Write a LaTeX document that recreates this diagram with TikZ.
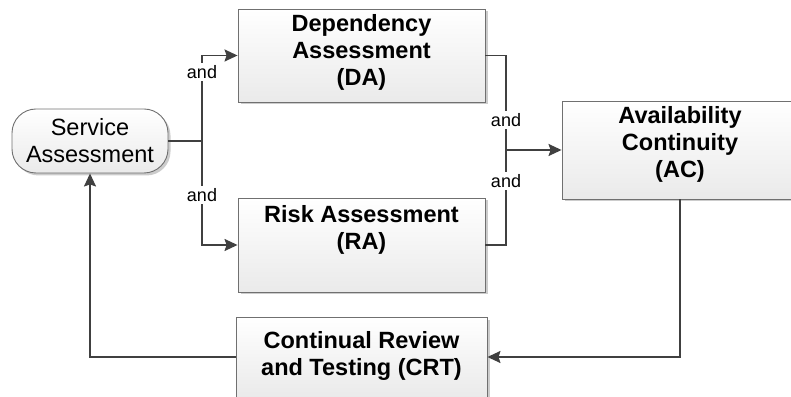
\documentclass[tikz,border=0pt]{standalone}
\usepackage{fontspec}
\setmainfont{Liberation Sans}
\usetikzlibrary{arrows.meta,shadows}
\definecolor{wire}{HTML}{404040}
\definecolor{boxedge}{HTML}{707070}
\definecolor{boxfill}{HTML}{EAEAEA}
\begin{document}
\begin{tikzpicture}[x=1pt,y=1pt,
  shell/.style={draw=boxedge, line width=0.9pt, top color=white, bottom color=boxfill,
    general shadow={shadow xshift=2.5pt, shadow yshift=-2.5pt, fill=black!20},
    inner sep=0pt},
  boxtext/.style={font=\fontsize{23.5}{27}\selectfont\bfseries, align=center, inner sep=0pt},
  wire/.style={draw=wire, line width=1.7pt},
  flow/.style={wire, -{Stealth[length=13pt, width=12pt, inset=2pt]}},
  andlbl/.style={fill=white, inner sep=2pt, font=\fontsize{18}{20}\selectfont}
]
\useasboundingbox (0,0) rectangle (791,396);

% process boxes
\node[shell, rounded corners=24pt, minimum width=156pt, minimum height=64pt,
      font=\fontsize{23.5}{27}\selectfont, align=center] (sa) at (90,255) {Service\\Assessment};
\node[shell, minimum width=247pt, minimum height=93pt] (da) at (361.5,340.5) {};
\node[shell, minimum width=247pt, minimum height=94pt] (ra) at (361.5,151) {};
\node[shell, minimum width=236pt, minimum height=98pt] (ac) at (680,246) {};
\node[shell, minimum width=251pt, minimum height=80pt] (crt) at (361.5,39) {};

% box captions
\node[boxtext] (datxt) at (361.5,343.5) {Dependency\\Assessment\\(DA)};
\node[boxtext] (ratxt) at (361.5,166) {Risk Assessment\\(RA)};
\node[boxtext] (actxt) at (680,252) {Availability\\Continuity\\(AC)};
\node[boxtext] (crttxt) at (361.5,40) {Continual Review\\and Testing (CRT)};

% split and join points
\coordinate (jl) at (202,255);
\coordinate (jr) at (506,246);

% connectors
\draw[wire] (sa.east) -- (jl);
\draw[flow] (jl) |- (da.west);
\draw[flow] (jl) |- (ra.west);
\draw[wire] (da.east) -| (jr) |- (ra.east);
\draw[flow] (jr) -- (ac.west);
\draw[flow] (ac.south) |- (crt.east);
\draw[flow] (crt.west) -| (sa.south);

% branch labels
\node[andlbl] (and1) at (202,324) {and};
\node[andlbl] (and2) at (202,201) {and};
\node[andlbl] (and3) at (506,276) {and};
\node[andlbl] (and4) at (506,215) {and};
\end{tikzpicture}
\end{document}
